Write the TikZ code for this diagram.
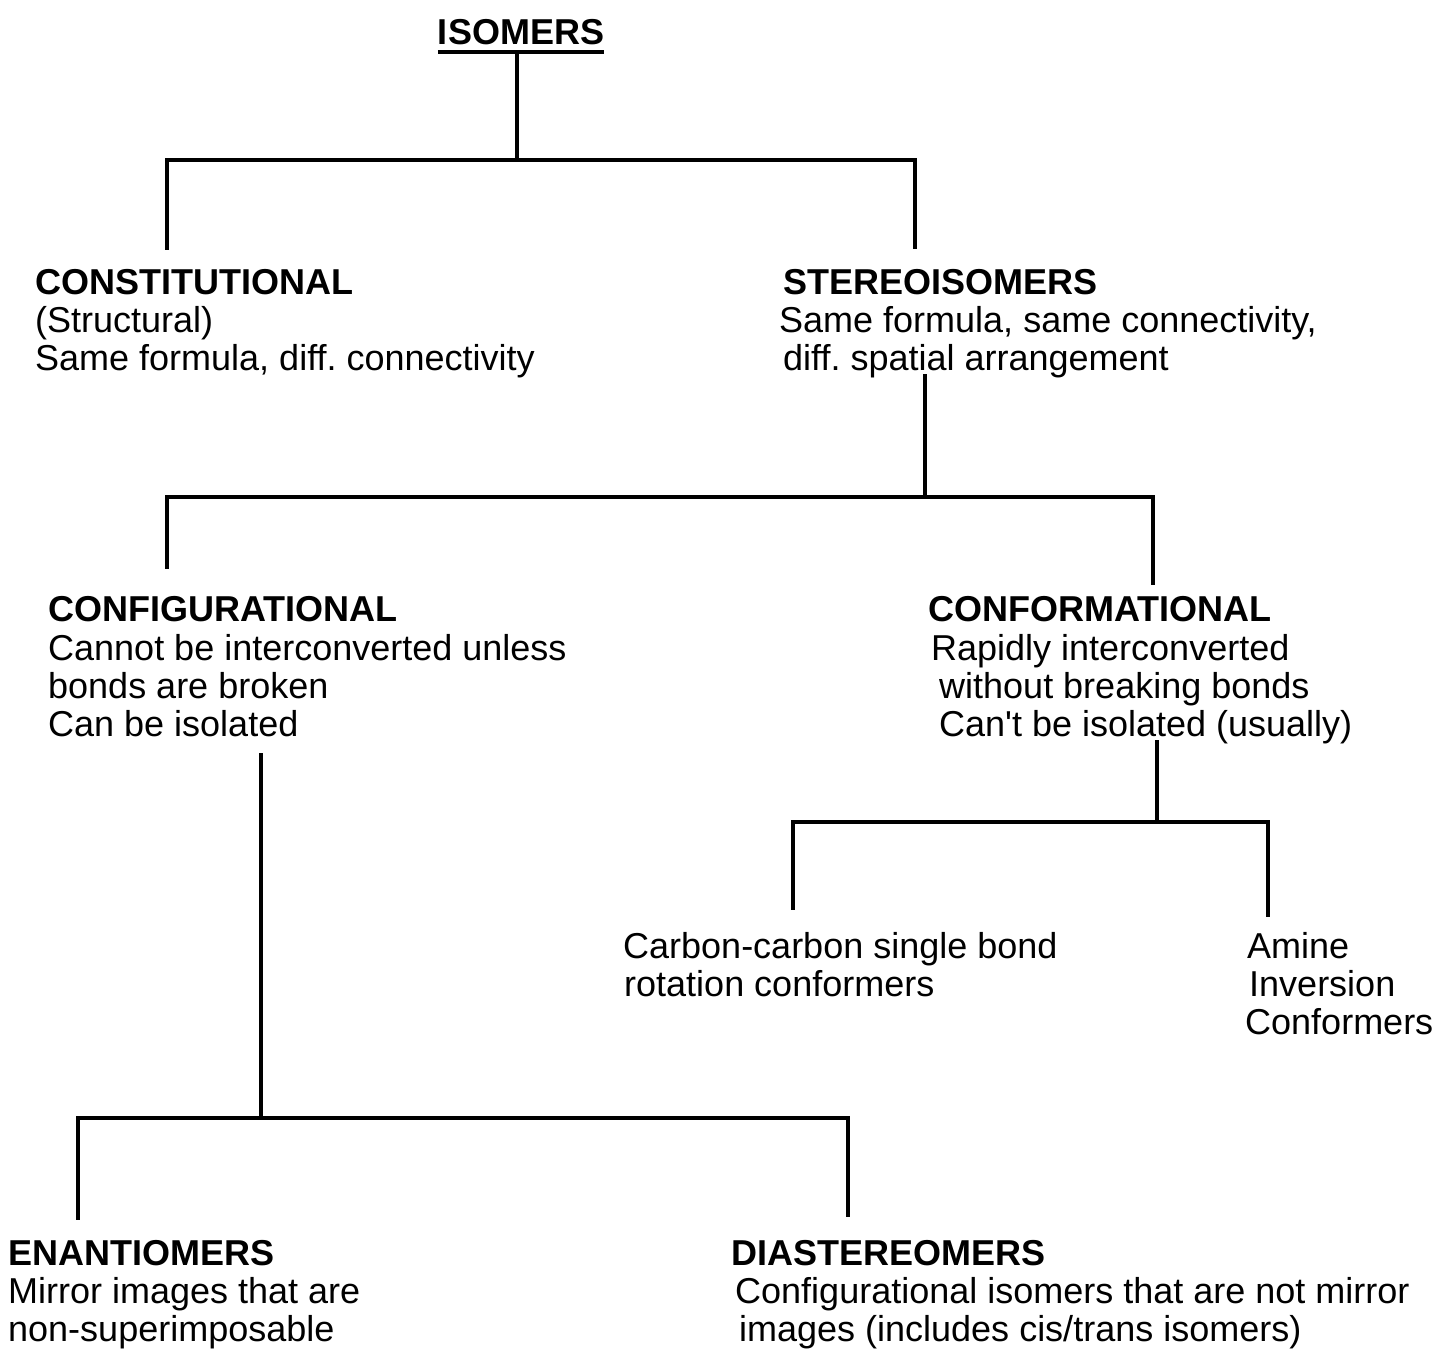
\documentclass[tikz,border=0pt]{standalone}
\usepackage{fontspec}
\setmainfont{Liberation Sans}
\frenchspacing
\begin{document}
\begin{tikzpicture}[x=1pt,y=-1pt,
  txt/.style={inner sep=0pt,anchor=base west,font=\fontsize{36}{38}\selectfont},
  hd/.style={txt,font=\fontsize{36}{38}\selectfont\bfseries},
  conn/.style={line width=3.2pt,line cap=rect}]
\useasboundingbox[fill=white] (0,0) rectangle (1437,1349);
% titles and texts
\node[hd,anchor=base] (iso) at (521,44) {ISOMERS};
\draw[line width=4.5pt] (iso.base west |- 0,52) coordinate (ul1) -- (iso.base east |- 0,52) coordinate (ul2);
\node[hd] (con) at (35,294) {CONSTITUTIONAL};
\node[txt] (con1) at (35,332) {(Structural)};
\node[txt] (con2) at (35,370) {Same formula, diff. connectivity};
\node[hd] (ste) at (783,294) {STEREOISOMERS};
\node[txt] (ste1) at (779,332) {Same formula, same connectivity,};
\node[txt] (ste2) at (783,370) {diff. spatial arrangement};
\node[hd] (cfg) at (48,621) {CONFIGURATIONAL};
\node[txt] (cfg1) at (48,660) {Cannot be interconverted unless};
\node[txt] (cfg2) at (48,698) {bonds are broken};
\node[txt] (cfg3) at (48,736) {Can be isolated};
\node[hd] (cnf) at (928,621) {CONFORMATIONAL};
\node[txt] (cnf1) at (931,660) {Rapidly interconverted};
\node[txt] (cnf2) at (939,698) {without breaking bonds};
\node[txt] (cnf3) at (939,736) {Can\textquotesingle t be isolated (usually)};
\node[txt] (cc1) at (623,958) {Carbon-carbon single bond};
\node[txt] (cc2) at (624,996) {rotation conformers};
\node[txt] (am1) at (1247,958) {Amine};
\node[txt] (am2) at (1249,996) {Inversion};
\node[txt] (am3) at (1245,1034) {Conformers};
\node[hd] (ena) at (8,1265) {ENANTIOMERS};
\node[txt] (ena1) at (8,1303) {Mirror images that are};
\node[txt] (ena2) at (8,1341) {non-superimposable};
\node[hd] (dia) at (731,1265) {DIASTEREOMERS};
\node[txt] (dia1) at (735,1303) {Configurational isomers that are not mirror};
\node[txt] (dia2) at (739,1341) {images (includes cis/trans isomers)};
% junction coordinates
\coordinate (a0) at (517,55);
\coordinate (a1) at (517,160);
\coordinate (aL) at (167,160);
\coordinate (aR) at (915,160);
\coordinate (aLe) at (167,248);
\coordinate (aRe) at (915,247);
\coordinate (b0) at (925,376);
\coordinate (b1) at (925,497);
\coordinate (bL) at (167,497);
\coordinate (bR) at (1153,497);
\coordinate (bLe) at (167,567);
\coordinate (bRe) at (1153,583);
\coordinate (c0) at (1157,742);
\coordinate (c1) at (1157,822);
\coordinate (cL) at (793,822);
\coordinate (cR) at (1268,822);
\coordinate (cLe) at (793,908);
\coordinate (cRe) at (1268,915);
\coordinate (d0) at (261,755);
\coordinate (d1) at (261,1118);
\coordinate (dL) at (78,1118);
\coordinate (dR) at (848,1118);
\coordinate (dLe) at (78,1218);
\coordinate (dRe) at (848,1215);
% connectors
\draw[conn] (a0) -- (a1);
\draw[conn] (aLe) -- (aL) -- (aR) -- (aRe);
\draw[conn] (b0) -- (b1);
\draw[conn] (bLe) -- (bL) -- (bR) -- (bRe);
\draw[conn] (c0) -- (c1);
\draw[conn] (cLe) -- (cL) -- (cR) -- (cRe);
\draw[conn] (d0) -- (d1);
\draw[conn] (dLe) -- (dL) -- (dR) -- (dRe);
\end{tikzpicture}
\end{document}
